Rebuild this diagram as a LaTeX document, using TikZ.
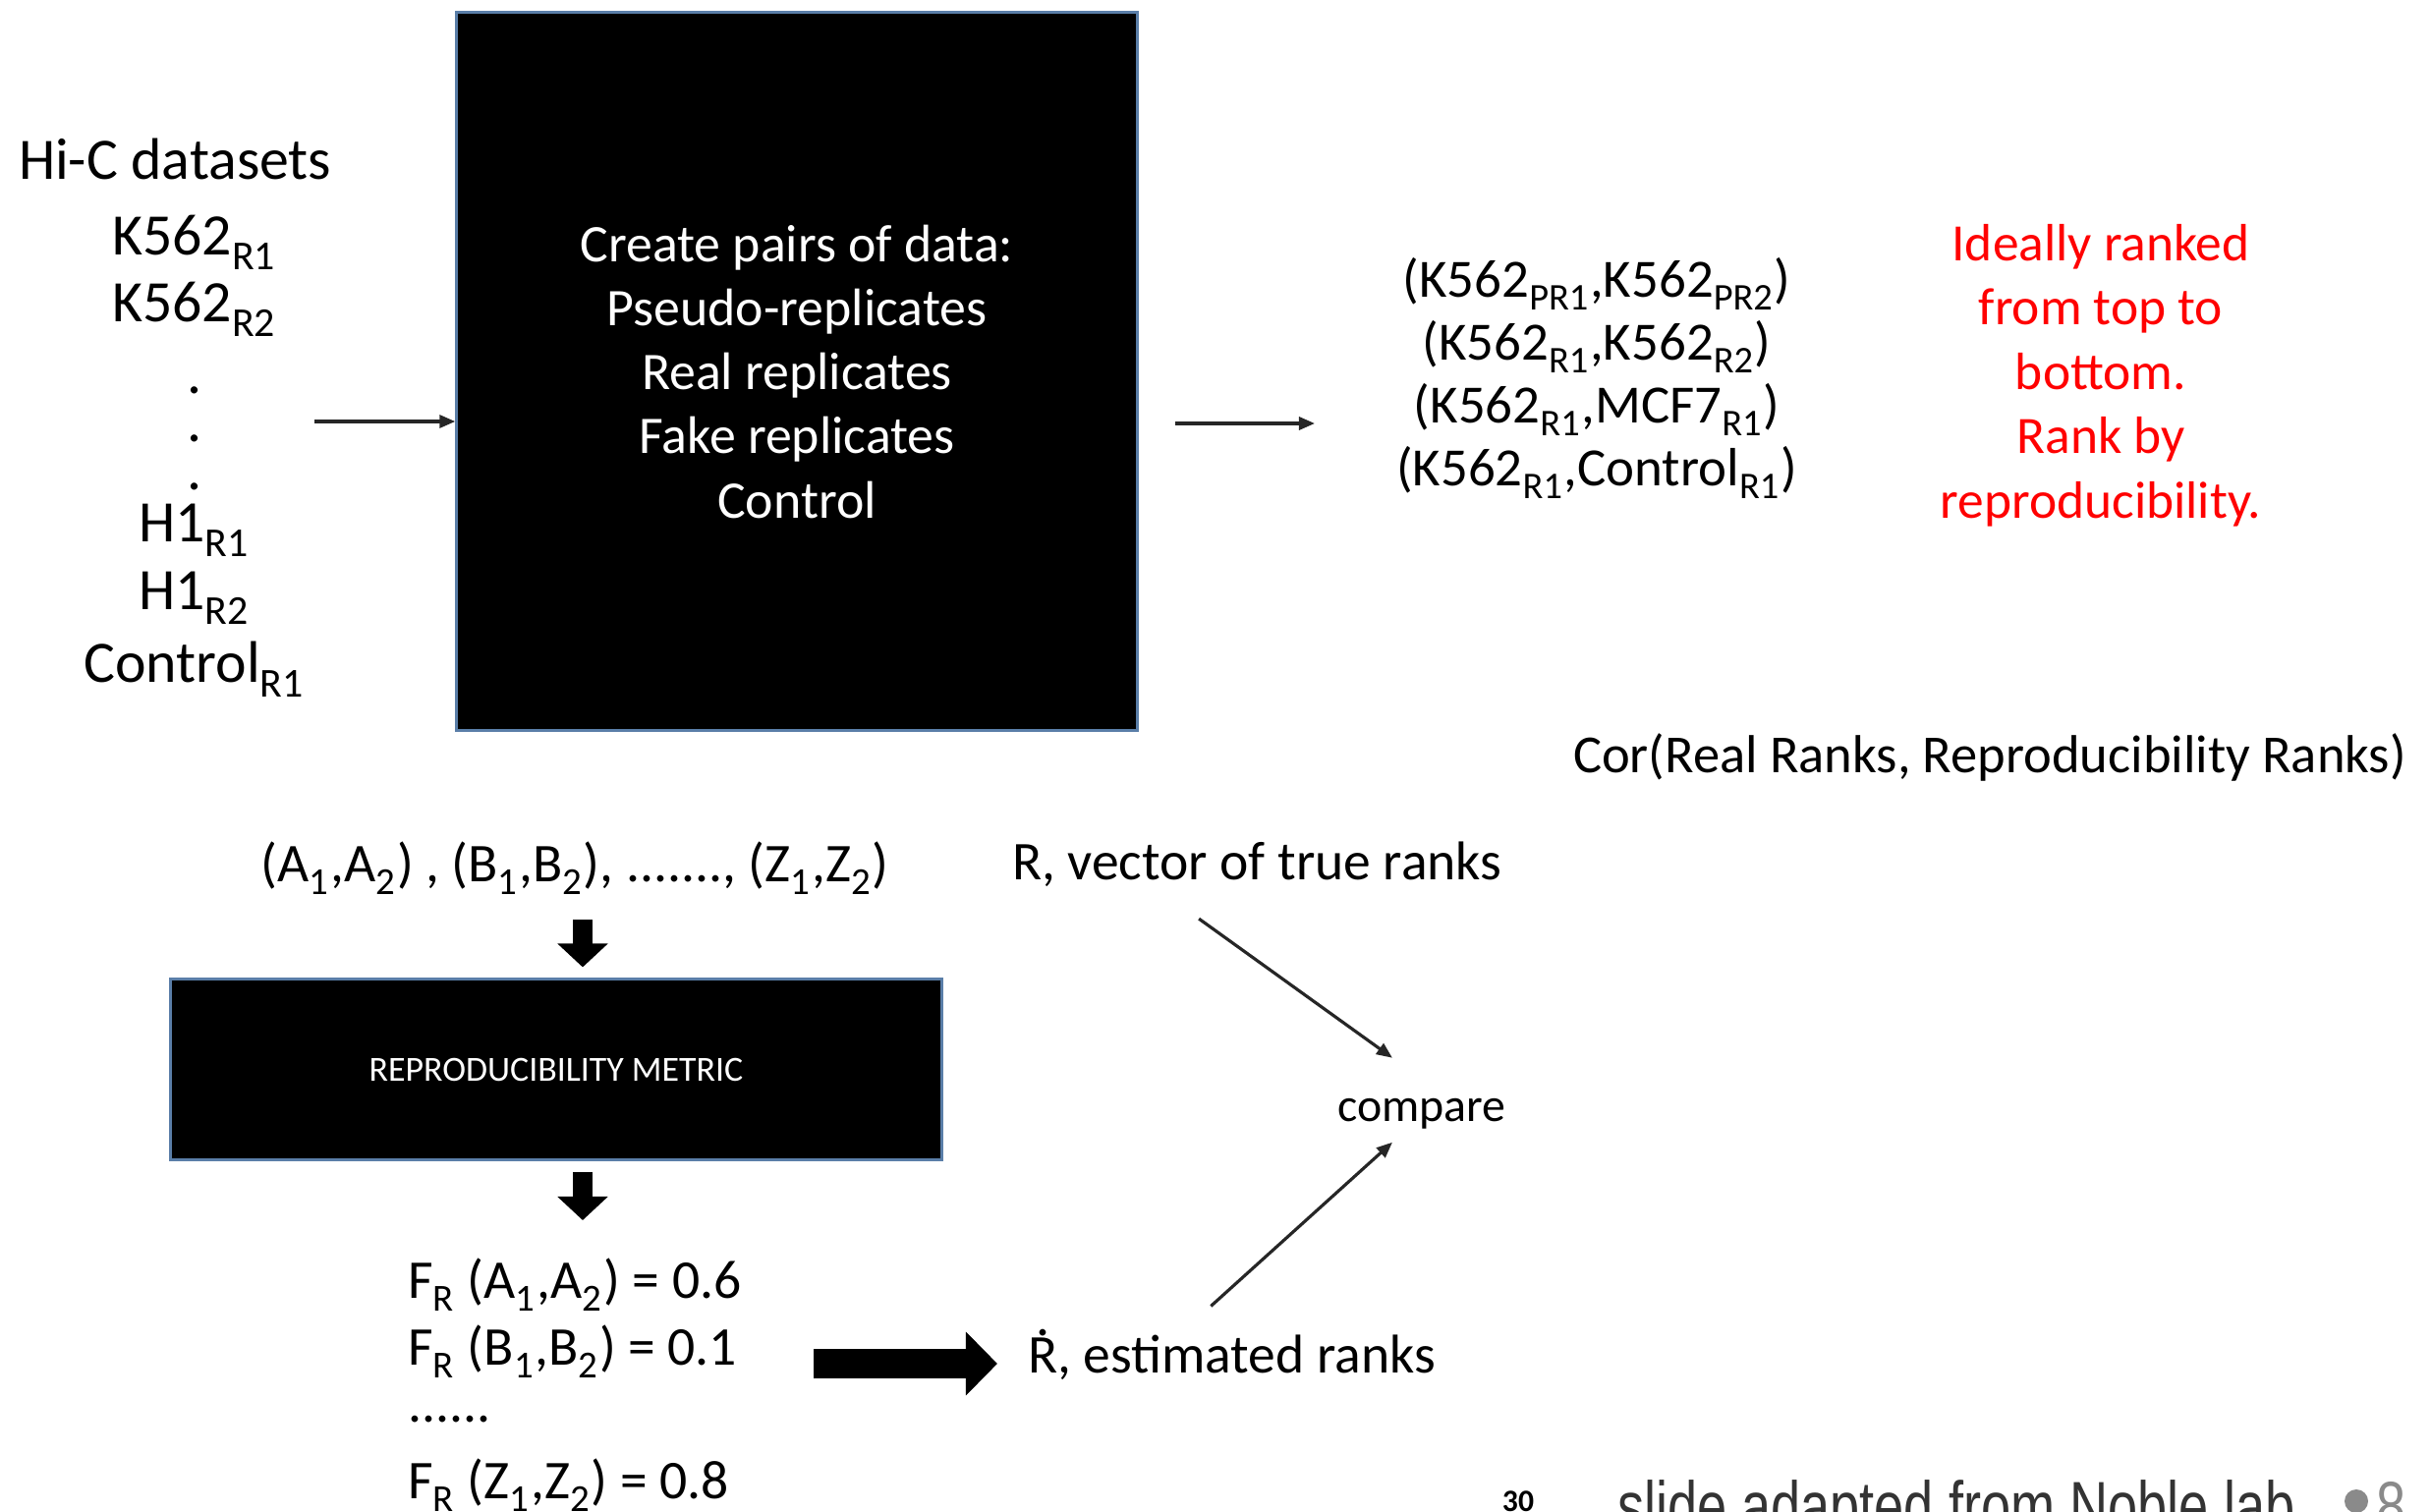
\documentclass[tikz,border=0pt]{standalone}
\usepackage{fontspec}
\setmainfont{Carlito}
\newfontfamily\footfont[FakeStretch=0.77]{Liberation Sans}
\usetikzlibrary{arrows.meta,positioning,calc}
\definecolor{hcedge}{HTML}{5A7EA8}
\definecolor{hcred}{HTML}{FF0000}
\definecolor{hcgrey}{HTML}{8A8A8A}
\newcommand{\sub}[1]{\raisebox{-0.1em}{\textsubscript{#1}}}
\newcommand{\rdot}{\leavevmode\hbox{\ooalign{R\cr\hidewidth\raisebox{0.68em}{.}\hidewidth\cr}}}
\tikzset{
  blk/.style={draw=hcedge,fill=black,line width=0.85pt,inner sep=0pt},
  txt/.style={inner sep=0pt,outer sep=0pt,anchor=base,font=\fontsize{17}{20}\selectfont},
  boxtxt/.style={txt,text=white,font=\fontsize{15.3}{18}\selectfont},
  pairtxt/.style={txt,font=\fontsize{15.6}{19}\selectfont},
  redtxt/.style={txt,text=hcred,font=\fontsize{15.2}{18}\selectfont},
  lowtxt/.style={txt,font=\fontsize{15.8}{19}\selectfont},
  ar/.style={-{Triangle[length=1.6mm,width=1.3mm]},line width=0.9pt,black!85},
  blockar/.style={-{Triangle[length=2.4mm,width=5mm]},line width=1.9mm},
  bigar/.style={-{Triangle[length=3.2mm,width=6.3mm]},line width=3mm},
}

\begin{document}
\begin{tikzpicture}[x=0.01cm,y=-0.01cm]
  \useasboundingbox (0,0) rectangle (2474,1539);
  % datasets column
  \node[txt,anchor=base west] (hic) at (19,182) {Hi-C datasets};
  \foreach \t/\yy [count=\j] in {K562\sub{R1}/259,K562\sub{R2}/327,H1\sub{R1}/551,
      H1\sub{R2}/620,Control\sub{R1}/694}
    {\node[txt] (ds\j) at (198,\yy) {\t};}
  \foreach \yy [count=\j] in {400,449,498}
    {\node[txt] (dt\j) at (198,\yy) {.};}
  % pair builder
  \node[blk,minimum width=6.92cm,minimum height=7.30cm] (box) at (811,378) {};
  \foreach \t [count=\j] in {Create pairs of data:,Pseudo-replicates,Real replicates,
      Fake replicates,Control}
    {\node[boxtxt] (cl\j) at (811,{266+65.3*(\j-1)}) {\t};}
  \coordinate (s1) at (320,429);
  \coordinate (s2) at (1338,431);
  \draw[ar] (s1) -- (s1 -| box.west);
  \draw[ar,shorten <=0.37cm] (s2 -| box.east) -- (s2);
  \foreach \t [count=\j] in {{(K562\sub{PR1},K562\sub{PR2})},{(K562\sub{R1},K562\sub{R2})},
      {(K562\sub{R1},MCF7\sub{R1})},{(K562\sub{R1},Control\sub{R1})}}
    {\node[pairtxt] (pp\j) at (1625,{302+64.3*(\j-1)}) {\t};}
  \foreach \t [count=\j] in {Ideally ranked,from top to,bottom.,Rank by,reproducibility.}
    {\node[redtxt] (rd\j) at (2138,{265+65.5*(\j-1)}) {\t};}
  \node[txt,font=\fontsize{15.5}{18}\selectfont] (cor) at (2025,786)
    {Cor(Real Ranks, Reproducibility Ranks)};
  % metric part
  \node[lowtxt] (pr) at (585,897)
    {(A\sub{1},A\sub{2}) , (B\sub{1},B\sub{2}), ......., (Z\sub{1},Z\sub{2})};
  \node[blk,minimum width=7.84cm,minimum height=1.83cm,text=white,
        font=\fontsize{10.2}{12}\selectfont] (mt) at (566,1088.5) {REPRODUCIBILITY METRIC};
  \coordinate (dx) at (593,936);
  \coordinate (dy) at (593,1242);
  \draw[blockar,shorten >=0.11cm] (dx) -- (dx |- mt.north);
  \draw[blockar,shorten <=0.11cm] (dy |- mt.south) -- (dy);
  \node[lowtxt,anchor=base west] (fa) at (415,1321) {F\sub{R} (A\sub{1},A\sub{2}) = 0.6};
  \node[lowtxt,anchor=base west] (fb) at (415,1389) {F\sub{R} (B\sub{1},B\sub{2}) = 0.1};
  \node[lowtxt,anchor=base west] (fd) at (415,1447) {......};
  \node[lowtxt,anchor=base west] (fz) at (415,1525) {F\sub{R} (Z\sub{1},Z\sub{2}) = 0.8};
  \node[lowtxt,anchor=base west] (tru) at (1030,895) {R, vector of true ranks};
  \node[lowtxt,anchor=base west] (est) at (1046,1397) {\rdot, estimated ranks};
  \node[txt,font=\fontsize{13.6}{16}\selectfont] (cmp) at (1447,1141) {compare};
  \coordinate (rb) at (828,1388);
  \draw[bigar,shorten >=0.31cm] (rb) -- (rb -| est.west);
  \draw[ar] ([xshift=-0.59cm,yshift=-0.33cm]tru.south) -- ([xshift=-0.3cm,yshift=0.41cm]cmp.north);
  \draw[ar] ([xshift=-0.21cm,yshift=0.29cm]est.north) -- ([xshift=-0.3cm,yshift=-0.14cm]cmp.south);
  % footer
  \node[txt,font=\fontsize{9}{10}\selectfont\bfseries] (pg) at (1545,1538) {30};
  \node[txt,anchor=base west,font=\footfont\fontsize{20}{24}\selectfont,text=black!80] (ft)
    at (1646,1557) {slide adapted from Noble lab};
  \node[circle,fill=hcgrey,minimum size=0.24cm,inner sep=0pt] (dot) at (2398,1528) {};
  \node[txt,font=\footfont\fontsize{20}{24}\selectfont,text=hcgrey] (pn) at (2434,1557) {8};
\end{tikzpicture}
\end{document}
